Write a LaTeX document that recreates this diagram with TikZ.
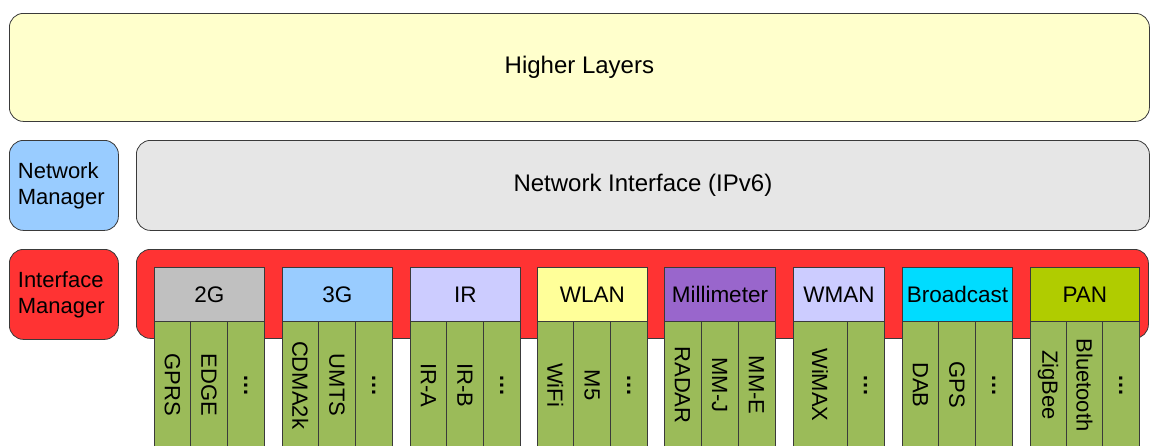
\documentclass[tikz,border=0pt]{standalone}
\usepackage{fontspec}
\setmainfont{Liberation Sans}
\definecolor{hlyellow}{HTML}{FFFFCC}
\definecolor{nmblue}{HTML}{99CCFF}
\definecolor{nigray}{HTML}{E6E6E6}
\definecolor{imred}{HTML}{FF3333}
\definecolor{edge}{HTML}{3A3A3A}
\definecolor{c2g}{HTML}{C0C0C0}
\definecolor{c3g}{HTML}{99CCFF}
\definecolor{cir}{HTML}{CCCCFF}
\definecolor{cwlan}{HTML}{FFFF99}
\definecolor{cmm}{HTML}{9966CC}
\definecolor{cwman}{HTML}{CCCCFF}
\definecolor{cbc}{HTML}{00DCFF}
\definecolor{cpan}{HTML}{B0CC00}
\definecolor{techgreen}{HTML}{9BBB59}
\tikzset{
  layer/.style={draw=edge, line width=0.8pt, rounded corners=14pt, anchor=north west,
    inner sep=0pt, align=center, font=\fontsize{24}{28}\selectfont},
  mgr/.style={layer, align=left, font=\fontsize{22}{26}\selectfont,
    text width=92pt, minimum width=109pt, minimum height=90pt},
  header/.style={draw=edge, line width=0.8pt, anchor=north west, inner sep=0pt,
    minimum height=54pt, font=\fontsize{22.5}{26}\selectfont},
  tech/.style={draw=edge, line width=0.8pt, fill=techgreen, rotate=-90, inner sep=0pt,
    minimum width=128pt, font=\fontsize{22}{26}\selectfont}
}
\newcommand{\etc}{\textbf{…}}
\begin{document}
\begin{tikzpicture}[x=1pt,y=-1pt]
\useasboundingbox (0,0) rectangle (1150,445);
\clip (0,0) rectangle (1150,445);

% protocol stack layers
\node[layer, fill=hlyellow, minimum width=1140pt, minimum height=108pt] (higher) at (9,13) {Higher Layers};
\node[mgr, fill=nmblue] (netmgr) at (9,140) {Network\\Manager};
\node[layer, fill=nigray, minimum width=1013pt, minimum height=90pt] (netif) at (136,140) {Network Interface (IPv6)};
\node[mgr, fill=imred] (ifmgr) at (9,249) {Interface\\Manager};
\node[layer, fill=imred, minimum width=1012pt, minimum height=89pt] (ifs) at (136,249) {};

% interface families with three technologies each
\foreach \x/\w/\c/\t/\a/\b/\d in {
    154/110/c2g/2G/GPRS/EDGE/\etc,
    282/110/c3g/3G/CDMA2k/UMTS/\etc,
    410/110/cir/IR/IR-A/IR-B/\etc,
    537/110/cwlan/WLAN/WiFi/M5/\etc,
    664/111/cmm/Millimeter/RADAR/MM-J/MM-E,
    902/110/cbc/Broadcast/DAB/GPS/\etc,
    1030/109/cpan/PAN/ZigBee/Bluetooth/\etc}{
  \pgfmathsetmacro{\sw}{\w/3}
  \node[header, fill=\c, minimum width=\w pt] (h-\t) at (\x,267) {\t};
  \node[tech, minimum height=\sw pt] (t-\t-1) at (\x+0.5*\sw,385) {\a};
  \node[tech, minimum height=\sw pt] (t-\t-2) at (\x+1.5*\sw,385) {\b};
  \node[tech, minimum height=\sw pt] (t-\t-3) at (\x+2.5*\sw,385) {\d};
}

% WMAN has two technologies
\node[header, fill=cwman, minimum width=91pt] (h-WMAN) at (793,267) {WMAN};
\node[tech, minimum height=54pt] (t-WMAN-1) at (820,385) {WiMAX};
\node[tech, minimum height=37pt] (t-WMAN-2) at (865.5,385) {\etc};
\end{tikzpicture}
\end{document}
